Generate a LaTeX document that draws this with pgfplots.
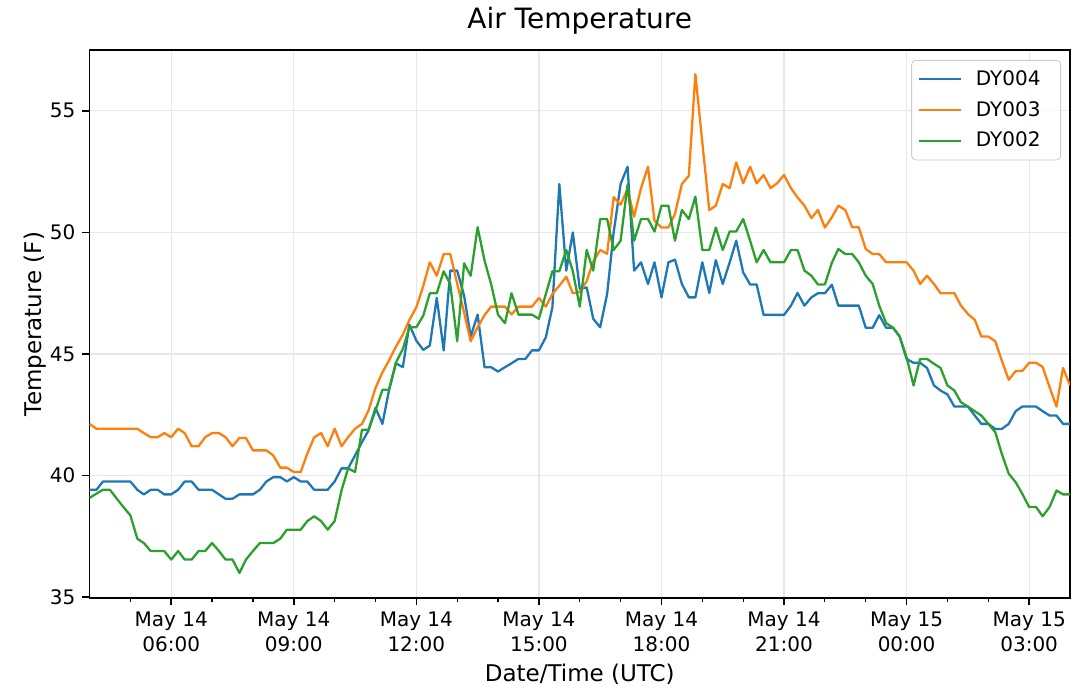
\documentclass[border=0pt]{standalone}
\usepackage{fontspec}
\setmainfont{DejaVu Sans}
\usepackage{pgfplots}
\pgfplotsset{compat=1.18}
\definecolor{cblue}{HTML}{1F77B4}
\definecolor{corange}{HTML}{FF7F0E}
\definecolor{cgreen}{HTML}{2CA02C}
\begin{document}
\begin{tikzpicture}
\useasboundingbox (0,0) rectangle (539.5pt,346pt);
\begin{axis}[
  at={(44.75pt,47pt)}, anchor=south west,
  scale only axis, width=490.25pt, height=274pt,
  xmin=4, xmax=28, ymin=34.97, ymax=57.5,
  xtick={6,9,12,15,18,21,24,27},
  xticklabels={{May 14\\06:00},{May 14\\09:00},{May 14\\12:00},{May 14\\15:00},{May 14\\18:00},{May 14\\21:00},{May 15\\00:00},{May 15\\03:00}},
  minor xtick={5,7,8,10,11,13,14,16,17,19,20,22,23,25,26},
  ytick={35,40,45,50,55},
  xtick pos=left, ytick pos=left,
  tick align=outside,
  major tick length=3.5pt, minor tick length=2pt,
  every tick/.style={black, line width=0.8pt},
  minor tick style={black, line width=0.6pt},
  axis line style={black, line width=0.8pt},
  grid=major,
  major grid style={black!9, line width=0.6pt},
  /pgf/number format/assume math mode=true,
  tick label style={font=\fontsize{10}{12.5}\selectfont},
  xticklabel style={align=center},
  title={Air Temperature},
  title style={font=\fontsize{14}{16}\selectfont, at={(axis description cs:0.5,1.017)}, anchor=base},
  xlabel={Date/Time (UTC)},
  xlabel style={font=\fontsize{11.5}{13}\selectfont, at={(axis description cs:0.5,-0.153)}, anchor=base},
  ylabel={Temperature (F)},
  ylabel style={font=\fontsize{11.5}{13}\selectfont, at={(axis description cs:-0.0488,0.5)}, anchor=base, rotate=0},
  legend style={at={(1,1)}, anchor=north east, xshift=-4.5pt, yshift=-5pt,
    draw=black!20, rounded corners=2pt, fill=white, fill opacity=0.8, text opacity=1,
    font=\fontsize{10}{12}\selectfont, inner xsep=3pt, inner ysep=3pt,
    row sep=2.5pt, nodes={inner xsep=7pt}},
  legend cell align=left,
  legend image code/.code={\draw[#1] (0pt,0pt) -- (21pt,0pt);},
  every axis plot/.append style={line width=1.15pt, line join=round},
]
\addplot[cblue] coordinates {
(4.0,39.42) (4.17,39.42) (4.33,39.76) (4.5,39.76) (4.67,39.76) (4.83,39.76) (5.0,39.76)
(5.17,39.42) (5.33,39.23) (5.5,39.42) (5.67,39.42) (5.83,39.23) (6.0,39.23) (6.17,39.42)
(6.33,39.76) (6.5,39.76) (6.67,39.42) (6.83,39.42) (7.0,39.42) (7.17,39.23) (7.33,39.05)
(7.5,39.05) (7.67,39.23) (7.83,39.23) (8.0,39.23) (8.17,39.42) (8.33,39.76) (8.5,39.94)
(8.67,39.94) (8.83,39.76) (9.0,39.94) (9.17,39.76) (9.33,39.76) (9.5,39.42) (9.67,39.42)
(9.83,39.42) (10.0,39.76) (10.17,40.3) (10.33,40.3) (10.5,40.83) (10.67,41.38) (10.83,41.86)
(11.0,42.79) (11.17,42.13) (11.33,43.5) (11.5,44.62) (11.67,44.46) (11.83,46.21) (12.0,45.55)
(12.17,45.17) (12.33,45.35) (12.5,47.31) (12.67,45.15) (12.83,48.43) (13.0,48.43) (13.17,47.39)
(13.33,45.72) (13.5,46.62) (13.67,44.46) (13.83,44.46) (14.0,44.28) (14.17,44.46) (14.33,44.62)
(14.5,44.8) (14.67,44.8) (14.83,45.15) (15.0,45.15) (15.17,45.69) (15.33,46.92) (15.5,51.99)
(15.67,48.43) (15.83,50.0) (16.0,47.68) (16.17,47.74) (16.33,46.45) (16.5,46.1) (16.67,47.47)
(16.83,50.0) (17.0,51.99) (17.17,52.7) (17.33,48.43) (17.5,48.77) (17.67,47.88) (17.83,48.77)
(18.0,47.33) (18.17,48.77) (18.33,48.88) (18.5,47.88) (18.67,47.33) (18.83,47.33) (19.0,48.77)
(19.17,47.51) (19.33,48.86) (19.5,47.88) (19.67,48.77) (19.83,49.66) (20.0,48.36) (20.17,47.86)
(20.33,47.86) (20.5,46.61) (20.67,46.61) (20.83,46.61) (21.0,46.61) (21.17,46.99) (21.33,47.51)
(21.5,46.99) (21.67,47.33) (21.83,47.5) (22.0,47.5) (22.17,47.85) (22.33,46.99) (22.5,46.99)
(22.67,46.99) (22.83,46.99) (23.0,46.08) (23.17,46.08) (23.33,46.6) (23.5,46.08) (23.67,46.08)
(23.83,45.72) (24.0,44.8) (24.17,44.64) (24.33,44.64) (24.5,44.43) (24.67,43.71) (24.83,43.5)
(25.0,43.34) (25.17,42.84) (25.33,42.84) (25.5,42.84) (25.67,42.47) (25.83,42.13) (26.0,42.13)
(26.17,41.92) (26.33,41.92) (26.5,42.13) (26.67,42.65) (26.83,42.84) (27.0,42.84) (27.17,42.84)
(27.33,42.65) (27.5,42.47) (27.67,42.47) (27.83,42.13) (28.0,42.13)
};
\addlegendentry{DY004}
\addplot[corange] coordinates {
(4.0,42.13) (4.17,41.93) (4.33,41.93) (4.5,41.93) (4.67,41.93) (4.83,41.93) (5.0,41.93)
(5.17,41.93) (5.33,41.75) (5.5,41.58) (5.67,41.58) (5.83,41.75) (6.0,41.58) (6.17,41.93)
(6.33,41.75) (6.5,41.21) (6.67,41.21) (6.83,41.58) (7.0,41.75) (7.17,41.75) (7.33,41.58)
(7.5,41.21) (7.67,41.55) (7.83,41.55) (8.0,41.04) (8.17,41.04) (8.33,41.04) (8.5,40.83)
(8.67,40.33) (8.83,40.33) (9.0,40.15) (9.17,40.15) (9.33,40.9) (9.5,41.58) (9.67,41.75)
(9.83,41.21) (10.0,41.93) (10.17,41.21) (10.33,41.58) (10.5,41.93) (10.67,42.13) (10.83,42.68)
(11.0,43.6) (11.17,44.25) (11.33,44.73) (11.5,45.3) (11.67,45.8) (11.83,46.4) (12.0,46.92)
(12.17,47.8) (12.33,48.77) (12.5,48.22) (12.67,49.11) (12.83,49.11) (13.0,47.9) (13.17,46.7)
(13.33,45.53) (13.5,46.1) (13.67,46.6) (13.83,46.95) (14.0,46.95) (14.17,46.95) (14.33,46.63)
(14.5,46.95) (14.67,46.95) (14.83,46.95) (15.0,47.31) (15.17,46.95) (15.33,47.47) (15.5,47.81)
(15.67,48.18) (15.83,47.5) (16.0,47.55) (16.17,48.0) (16.33,48.8) (16.5,49.28) (16.67,49.12)
(16.83,51.45) (17.0,51.14) (17.17,51.78) (17.33,50.65) (17.5,51.82) (17.67,52.7) (17.83,50.48)
(18.0,50.2) (18.17,50.2) (18.33,50.76) (18.5,51.99) (18.67,52.33) (18.83,56.51) (19.0,53.7)
(19.17,50.92) (19.33,51.1) (19.5,51.99) (19.67,51.82) (19.83,52.88) (20.0,52.02) (20.17,52.7)
(20.33,52.02) (20.5,52.36) (20.67,51.82) (20.83,52.02) (21.0,52.36) (21.17,51.82) (21.33,51.44)
(21.5,51.1) (21.67,50.59) (21.83,50.92) (22.0,50.2) (22.17,50.62) (22.33,51.1) (22.5,50.92)
(22.67,50.21) (22.83,50.21) (23.0,49.32) (23.17,49.11) (23.33,49.11) (23.5,48.77) (23.67,48.77)
(23.83,48.77) (24.0,48.77) (24.17,48.43) (24.33,47.88) (24.5,48.22) (24.67,47.88) (24.83,47.5)
(25.0,47.5) (25.17,47.5) (25.33,46.99) (25.5,46.65) (25.67,46.4) (25.83,45.72) (26.0,45.72)
(26.17,45.53) (26.33,44.73) (26.5,43.94) (26.67,44.3) (26.83,44.3) (27.0,44.64) (27.17,44.64)
(27.33,44.47) (27.5,43.64) (27.67,42.84) (27.83,44.43) (28.0,43.71)
};
\addlegendentry{DY003}
\addplot[cgreen] coordinates {
(4.0,39.09) (4.17,39.26) (4.33,39.42) (4.5,39.42) (4.67,39.05) (4.83,38.71) (5.0,38.37)
(5.17,37.41) (5.33,37.23) (5.5,36.9) (5.67,36.9) (5.83,36.9) (6.0,36.55) (6.17,36.9)
(6.33,36.55) (6.5,36.55) (6.67,36.9) (6.83,36.9) (7.0,37.23) (7.17,36.9) (7.33,36.55)
(7.5,36.55) (7.67,36.0) (7.83,36.55) (8.0,36.9) (8.17,37.23) (8.33,37.23) (8.5,37.23)
(8.67,37.41) (8.83,37.78) (9.0,37.78) (9.17,37.78) (9.33,38.13) (9.5,38.33) (9.67,38.13)
(9.83,37.78) (10.0,38.13) (10.17,39.4) (10.33,40.3) (10.5,40.15) (10.67,41.89) (10.83,41.89)
(11.0,42.68) (11.17,43.53) (11.33,43.53) (11.5,44.65) (11.67,45.21) (11.83,46.1) (12.0,46.1)
(12.17,46.58) (12.33,47.5) (12.5,47.5) (12.67,48.4) (12.83,47.88) (13.0,45.53) (13.17,48.73)
(13.33,48.22) (13.5,50.21) (13.67,48.84) (13.83,47.88) (14.0,46.62) (14.17,46.27) (14.33,47.5)
(14.5,46.62) (14.67,46.62) (14.83,46.62) (15.0,46.45) (15.17,47.47) (15.33,48.4) (15.5,48.4)
(15.67,49.28) (15.83,48.4) (16.0,46.95) (16.17,49.28) (16.33,48.43) (16.5,50.55) (16.67,50.55)
(16.83,49.28) (17.0,49.66) (17.17,51.96) (17.33,49.66) (17.5,50.55) (17.67,50.55) (17.83,50.04)
(18.0,51.1) (18.17,51.1) (18.33,49.66) (18.5,50.92) (18.67,50.55) (18.83,51.47) (19.0,49.28)
(19.17,49.28) (19.33,50.2) (19.5,49.28) (19.67,50.04) (19.83,50.04) (20.0,50.55) (20.17,49.66)
(20.33,48.77) (20.5,49.28) (20.67,48.77) (20.83,48.77) (21.0,48.77) (21.17,49.28) (21.33,49.28)
(21.5,48.43) (21.67,48.22) (21.83,47.86) (22.0,47.86) (22.17,48.75) (22.33,49.32) (22.5,49.11)
(22.67,49.11) (22.83,48.77) (23.0,48.22) (23.17,47.88) (23.33,46.99) (23.5,46.27) (23.67,46.08)
(23.83,45.72) (24.0,44.87) (24.17,43.71) (24.33,44.8) (24.5,44.8) (24.67,44.6) (24.83,44.43)
(25.0,43.71) (25.17,43.5) (25.33,43.02) (25.5,42.84) (25.67,42.65) (25.83,42.47) (26.0,42.13)
(26.17,41.79) (26.33,40.9) (26.5,40.08) (26.67,39.73) (26.83,39.26) (27.0,38.71) (27.17,38.71)
(27.33,38.33) (27.5,38.71) (27.67,39.39) (27.83,39.23) (28.0,39.23)
};
\addlegendentry{DY002}
\end{axis}
\end{tikzpicture}
\end{document}
